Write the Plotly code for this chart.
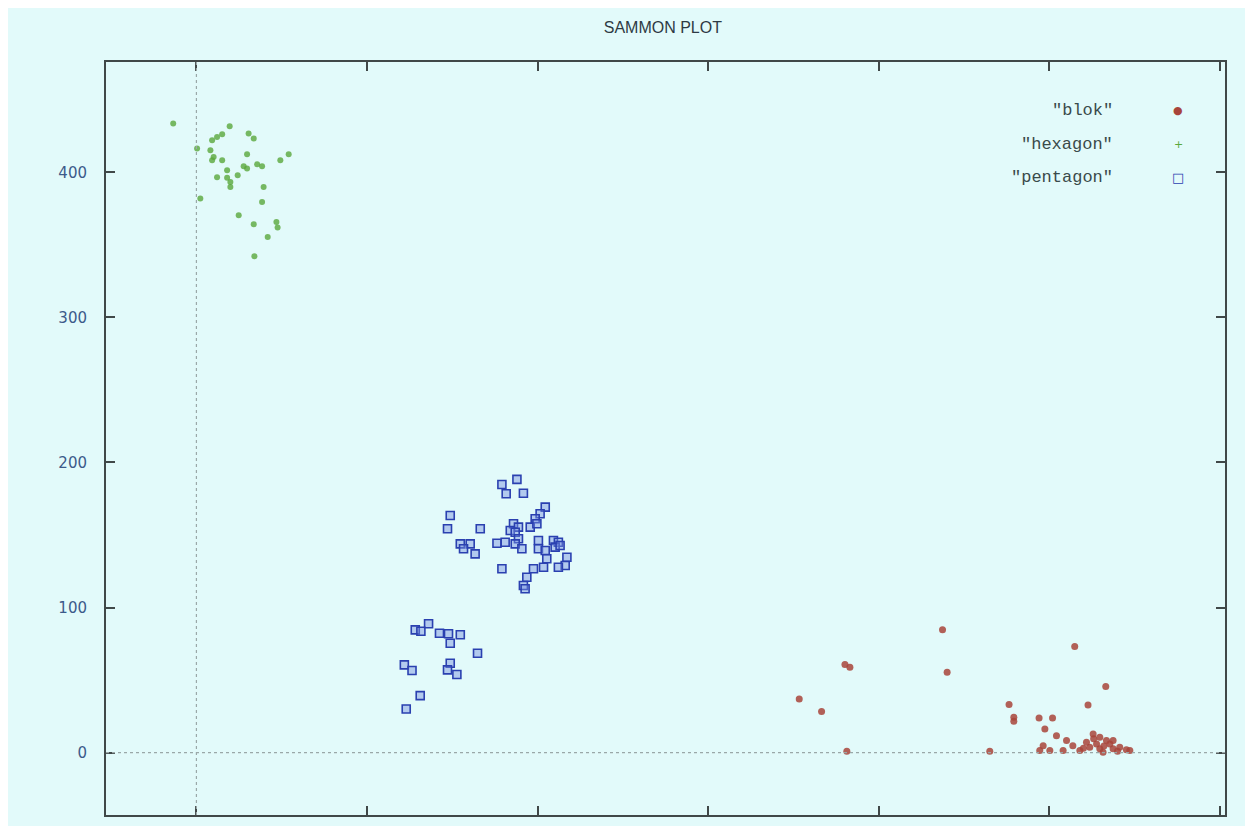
import plotly.graph_objects as go

# ---- data ----
series_names = ['"blok"', '"hexagon"', '"pentagon"']

blok_x = [437.4, 514.9, 380.2, 383.1, 440.1, 533.1, 353.4, 366.5, 476.4, 522.7,
          479.2, 479.2, 494.0, 501.9, 497.4, 381.3, 465.1, 504.2, 510.1, 513.8,
          496.4, 494.4, 500.3, 508.1, 517.9, 525.7, 529.6, 533.5, 537.4, 523.7,
          529.6, 537.4, 545.2, 541.3, 527.7, 535.5, 521.8, 531.5, 547.2, 526.0,
          532.0, 520.0, 540.0]
blok_y = [84.6, 73.1, 60.7, 58.8, 55.4, 45.5, 37.0, 28.3, 33.1, 32.9,
          24.3, 21.6, 23.9, 23.9, 16.3, 0.9, 0.9, 11.7, 8.3, 4.8,
          4.8, 1.4, 1.4, 1.4, 1.4, 12.9, 10.6, 8.3, 8.3, 3.7,
          2.6, 2.6, 1.9, 3.7, 6.0, 6.0, 7.1, 0.2, 1.4, 9.5,
          4.5, 3.0, 1.0]

hex_x = [-13.6, 19.5, 30.6, 33.6, 12.1, 15.1, 9.2, 0.4, 8.2, 10.1,
         9.2, 15.1, 29.7, 54.1, 49.2, 27.7, 29.7, 35.6, 38.5, 18.0,
         24.2, 12.1, 18.0, 19.9, 19.9, 39.4, 2.3, 38.5, 24.8, 33.6,
         46.9, 47.6, 41.8, 34.0]
hex_y = [433.6, 431.7, 426.7, 423.2, 424.3, 426.2, 422.1, 416.3, 415.2, 410.6,
         408.3, 408.3, 412.4, 412.4, 408.3, 404.1, 402.6, 405.5, 404.1, 401.4,
         397.9, 396.6, 396.3, 393.3, 389.9, 389.9, 381.9, 379.5, 370.3, 364.1,
         365.7, 361.9, 355.4, 342.1]

pent_x = [187.9, 179.1, 181.6, 191.7, 204.5, 201.5, 198.6, 148.8, 147.2, 166.4,
          185.9, 188.8, 195.7, 199.6, 184.0, 186.9, 188.8, 154.7, 160.5, 156.6,
          163.4, 176.2, 181.0, 186.9, 190.8, 200.5, 209.3, 212.2, 200.5, 204.5,
          210.3, 213.2, 205.4, 217.2, 216.2, 212.2, 203.5, 197.6, 179.1, 193.7,
          191.7, 192.7,
          136.1, 128.3, 131.6, 142.5, 147.8, 154.7, 148.8, 164.8, 121.9, 126.4,
          148.8, 147.2, 152.7, 131.2, 123.0]
pent_y = [188.3, 184.8, 178.4, 178.8, 169.2, 164.6, 161.2, 163.4, 154.3, 154.3,
          157.7, 155.4, 155.4, 157.7, 153.1, 151.9, 147.4, 143.9, 143.9, 140.5,
          137.0, 144.3, 145.0, 143.9, 140.5, 146.2, 146.2, 145.0, 140.5, 139.3,
          141.6, 142.8, 133.6, 134.7, 129.0, 127.8, 127.8, 126.7, 126.7, 120.9,
          115.2, 112.9,
          88.8, 84.6, 83.7, 82.3, 81.9, 81.2, 75.4, 68.5, 60.5, 56.6,
          61.6, 57.0, 53.8, 39.3, 30.1]

y_ticks = [0, 100, 200, 300, 400]
x_ticks = [0, 100, 200, 300, 400, 500, 600]

BG = "#e2fafa"
blok_col = "#a8443a"
hex_col = "#5aa83c"
pent_col = "#2a40b0"

fig = go.Figure()
fig.add_trace(go.Scatter(x=blok_x, y=blok_y, mode="markers", name=series_names[0],
                         marker=dict(symbol="circle", size=7, color=blok_col, opacity=0.85)))
fig.add_trace(go.Scatter(x=hex_x, y=hex_y, mode="markers", name=series_names[1],
                         marker=dict(symbol="circle", size=6, color=hex_col, opacity=0.8)))
fig.add_trace(go.Scatter(x=pent_x, y=pent_y, mode="markers", name=series_names[2],
                         marker=dict(symbol="square", size=8, color="rgba(120,145,225,0.45)",
                                     line=dict(color=pent_col, width=1.6))))

# dotted zero axes
fig.add_shape(type="line", xref="x", yref="paper", x0=0, x1=0, y0=0, y1=1,
              line=dict(color="#9aa8a8", width=1.2, dash="dot"))
fig.add_shape(type="line", xref="paper", yref="y", x0=0, x1=1, y0=0, y1=0,
              line=dict(color="#9aa8a8", width=1.2, dash="dot"))

# gnuplot-style legend: text then symbol on the right
legend_glyphs = ["●", "+", "□"]
legend_colors = [blok_col, hex_col, pent_col]
legend_y = [0.936, 0.890, 0.847]
for name, g, c, yy in zip(series_names, legend_glyphs, legend_colors, legend_y):
    fig.add_annotation(xref="paper", yref="paper", x=0.902, y=yy, xanchor="right",
                       yanchor="middle", showarrow=False, text=name,
                       font=dict(family="Liberation Mono", size=17, color="#3a4a4a"))
    fig.add_annotation(xref="paper", yref="paper", x=0.958, y=yy, xanchor="center",
                       yanchor="middle", showarrow=False, text=g,
                       font=dict(family="DejaVu Sans", size=11 if g != "□" else 13, color=c))

fig.update_layout(
    width=1245, height=818,
    paper_bgcolor=BG, plot_bgcolor=BG,
    margin=dict(l=98, r=28, t=54, b=11),
    showlegend=False,
    title=dict(text="SAMMON PLOT", xref="container", x=0.526, xanchor="center",
               yref="container", y=0.976, yanchor="middle",
               font=dict(family="Liberation Sans", size=16, color="#2e3a44")),
    xaxis=dict(range=[-53, 603], tickvals=x_ticks, showticklabels=False,
               ticks="inside", ticklen=9, tickwidth=1.5, tickcolor="#404848",
               showgrid=False, zeroline=False, showline=True, linecolor="#404848",
               linewidth=2, mirror="ticks"),
    yaxis=dict(range=[-43, 476], tickvals=y_ticks, ticks="inside", ticklen=9,
               tickwidth=1.5, tickcolor="#404848", showgrid=False, zeroline=False,
               showline=True, linecolor="#404848", linewidth=2, mirror="ticks",
               ticklabelstandoff=14,
               tickfont=dict(family="DejaVu Sans", size=15, color="#3c5a8a")),
)

fig.write_html("out.html", config={"displayModeBar": False})
